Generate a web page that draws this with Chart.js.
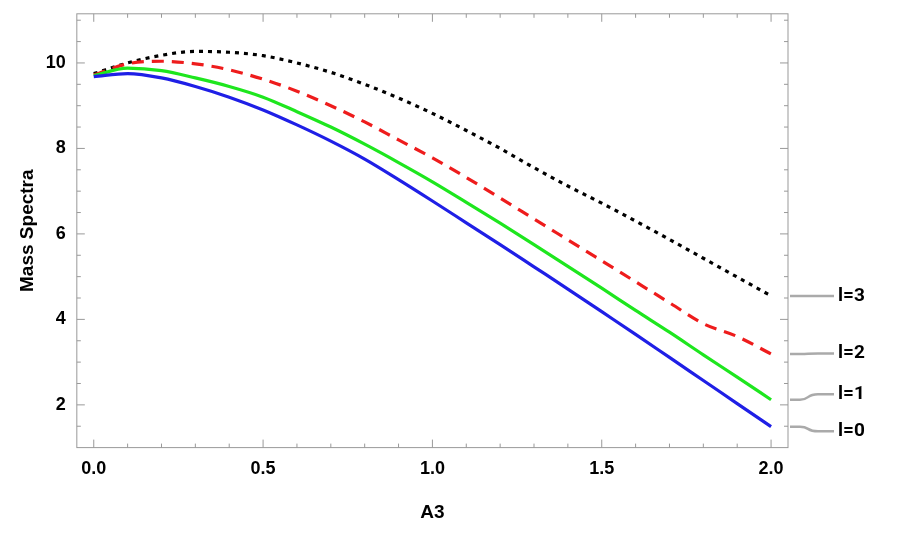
<!DOCTYPE html>
<html>
<head>
<script src="https://cdn.jsdelivr.net/npm/chart.js@4"></script>
<style>
  body { margin: 0; background: #fff; }
  #wrap { width: 913px; height: 533px; }
</style>
</head>
<body>
<div id="wrap"><canvas id="chart"></canvas></div>
<script>
const xValues = [0, 0.1, 0.2, 0.3, 0.4, 0.5, 0.6, 0.7, 0.8, 0.9, 1.0, 1.1, 1.2, 1.3, 1.4, 1.5, 1.6, 1.7, 1.8, 1.9, 2.0];
const l0 = [9.68, 9.75, 9.65, 9.45, 9.2, 8.9, 8.55, 8.17, 7.75, 7.27, 6.77, 6.26, 5.75, 5.23, 4.71, 4.18, 3.65, 3.11, 2.57, 2.03, 1.49];
const l1 = [9.7, 9.88, 9.82, 9.65, 9.45, 9.2, 8.86, 8.5, 8.1, 7.67, 7.22, 6.74, 6.25, 5.75, 5.24, 4.73, 4.21, 3.7, 3.17, 2.65, 2.12];
const l2 = [9.72, 9.98, 10.04, 9.98, 9.84, 9.62, 9.34, 9.0, 8.62, 8.2, 7.78, 7.32, 6.84, 6.35, 5.86, 5.37, 4.88, 4.39, 3.9, 3.6, 3.19];
const l3 = [9.75, 10.0, 10.18, 10.27, 10.25, 10.17, 10.0, 9.78, 9.5, 9.18, 8.82, 8.42, 8.0, 7.55, 7.12, 6.72, 6.3, 5.87, 5.43, 4.99, 4.55];
const seriesNames = ["l=0", "l=1", "l=2", "l=3"];
const labelY = [1.38, 2.25, 3.2, 4.55];
const xTicks = [0, 0.5, 1.0, 1.5, 2.0];
const yTicks = [2, 4, 6, 8, 10];

const allSeries = [l0, l1, l2, l3];
const colors = ["#1f1fe6", "#1ee61e", "#ee1c1c", "#000000"];
const dashes = [[], [], [12, 8], [4, 5]];

const endLabels = {
  id: "endLabels",
  afterDraw(chart) {
    const ctx = chart.ctx, xs = chart.scales.x, ys = chart.scales.y;
    const area = chart.chartArea;
    ctx.save();
    ctx.font = "bold 19px Roboto, Arial, sans-serif";
    ctx.textBaseline = "middle";
    allSeries.forEach((s, i) => {
      const y0 = ys.getPixelForValue(s[s.length - 1]);
      const y1 = ys.getPixelForValue(labelY[i]);
      const x0 = area.right + 2;
      ctx.strokeStyle = "#aaaaaa";
      ctx.lineWidth = 2.5;
      ctx.beginPath();
      ctx.moveTo(x0, y0);
      ctx.lineTo(x0 + 10, y0);
      ctx.bezierCurveTo(x0 + 20, y0, x0 + 16, y1, x0 + 28, y1);
      ctx.lineTo(x0 + 44, y1);
      ctx.stroke();
      ctx.fillStyle = "#000";
      ctx.fillText(seriesNames[i], x0 + 48, y1);
    });
    // minor ticks on frame
    ctx.strokeStyle = "#999";
    ctx.lineWidth = 1;
    for (let v = 0; v <= 2.0001; v += 0.1) {
      const p = xs.getPixelForValue(v);
      const len = Math.abs(v * 2 - Math.round(v * 2)) < 1e-6 ? 8 : 4;
      ctx.beginPath();
      ctx.moveTo(p, area.bottom); ctx.lineTo(p, area.bottom - len);
      ctx.moveTo(p, area.top); ctx.lineTo(p, area.top + len);
      ctx.stroke();
    }
    for (let v = 1.5; v <= 11; v += 0.5) {
      const p = ys.getPixelForValue(v);
      const len = v % 2 === 0 ? 8 : 4;
      ctx.beginPath();
      ctx.moveTo(area.left, p); ctx.lineTo(area.left + len, p);
      ctx.moveTo(area.right, p); ctx.lineTo(area.right - len, p);
      ctx.stroke();
    }
    ctx.strokeStyle = "#999";
    ctx.strokeRect(area.left, area.top, area.right - area.left, area.bottom - area.top);
    ctx.restore();
  }
};

new Chart(document.getElementById("chart"), {
  type: "line",
  data: {
    datasets: allSeries.map((s, i) => ({
      label: seriesNames[i],
      data: xValues.map((x, j) => ({ x: x, y: s[j] })),
      borderColor: colors[i],
      borderWidth: 3.2,
      borderDash: dashes[i],
      pointRadius: 0,
      cubicInterpolationMode: "monotone",
      fill: false
    }))
  },
  options: {
    responsive: true,
    maintainAspectRatio: false,
    animation: false,
    layout: { padding: { left: 12, right: 125, top: 8, bottom: 5 } },
    plugins: { legend: { display: false }, tooltip: { enabled: false } },
    scales: {
      x: {
        type: "linear", min: -0.05, max: 2.05,
        afterBuildTicks: ax => { ax.ticks = xTicks.map(v => ({ value: v })); },
        grid: { display: false },
        border: { display: false },
        ticks: { font: { size: 18, weight: "bold" }, color: "#000", callback: v => v.toFixed(1), maxRotation: 0 },
        title: { display: true, text: "A3", font: { size: 19, weight: "bold" }, color: "#000", padding: { top: 18 } }
      },
      y: {
        type: "linear", min: 1.0, max: 11.15,
        afterBuildTicks: ax => { ax.ticks = yTicks.map(v => ({ value: v })); },
        grid: { display: false },
        border: { display: false },
        ticks: { font: { size: 18, weight: "bold" }, color: "#000" },
        title: { display: true, text: "Mass Spectra", font: { size: 19, weight: "bold" }, color: "#000" }
      }
    }
  },
  plugins: [endLabels]
});
</script>
</body>
</html>
